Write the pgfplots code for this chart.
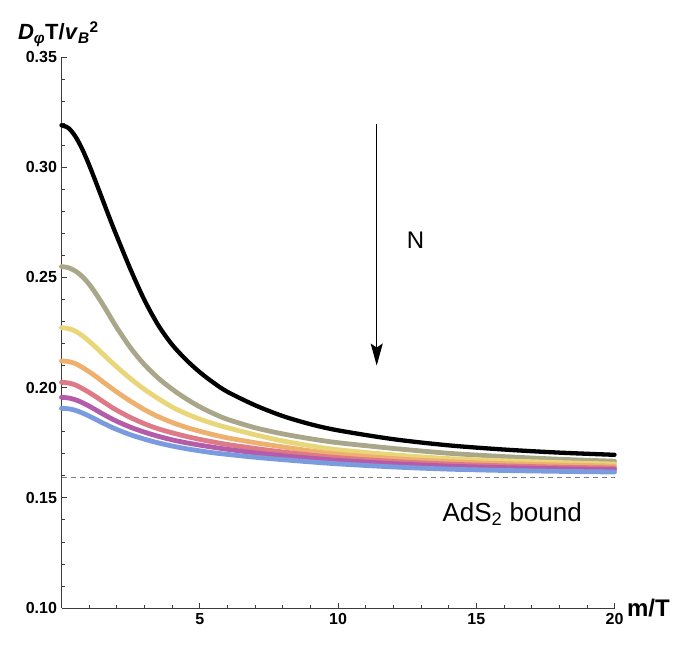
\documentclass[border=0pt]{standalone}
\usepackage{pgfplots}
\pgfplotsset{compat=1.18}
\usepackage{fontspec}
\setmainfont{Liberation Sans}
\usetikzlibrary{arrows.meta}
\definecolor{cgray}{RGB}{170,166,138}
\definecolor{cyel}{RGB}{232,214,120}
\definecolor{corg}{RGB}{238,176,110}
\definecolor{cpink}{RGB}{222,122,135}
\definecolor{cpur}{RGB}{180,92,170}
\definecolor{cblue}{RGB}{122,156,222}
\definecolor{axgray}{RGB}{60,60,60}
\begin{document}
\begin{tikzpicture}
\path[use as bounding box] (-61.5bp,-37bp) rectangle (618.5bp,608bp);
\begin{axis}[
  at={(0,0)}, anchor=south west,
  scale only axis, width=553bp, height=551bp,
  xmin=0, xmax=20, ymin=0.10, ymax=0.35,
  axis x line*=bottom, axis y line*=left,
  axis line style={axgray, line width=0.9bp},
  xtick={5,10,15,20}, minor xtick={1,2,3,4,6,7,8,9,11,12,13,14,16,17,18,19},
  ytick={0.10,0.15,0.20,0.25,0.30,0.35},
  yticklabels={0.10,0.15,0.20,0.25,0.30,0.35},
  minor ytick={0.11,0.12,0.13,0.14,0.16,0.17,0.18,0.19,0.21,0.22,0.23,0.24,0.26,0.27,0.28,0.29,0.31,0.32,0.33,0.34},
  tick align=inside,
  major tick length=5bp, minor tick length=3bp,
  tick style={axgray, line width=0.7bp},
  /pgf/number format/assume math mode=true,
  tick label style={font=\fontsize{16bp}{19bp}\selectfont\bfseries},
  xticklabel style={yshift=-2bp},
  yticklabel style={xshift=-1bp},
  clip=false,
  every axis plot/.append style={smooth, line cap=round},
]
\addplot[black, line width=4.3bp] coordinates {
(0,0.3190) (0.25,0.3178) (0.5,0.3140) (0.75,0.3082) (1,0.3010) (1.25,0.2930) (1.5,0.2848) (1.75,0.2766) (2,0.2687)
(2.5,0.2535) (3,0.2397) (3.5,0.2283) (4,0.2195) (4.5,0.2127) (5,0.2070) (5.5,0.2022) (6,0.1981)
(7,0.1920) (8,0.1871) (9,0.1834) (10,0.1806) (12,0.1766) (14,0.1738) (16,0.1719) (18,0.1705) (20,0.1695)};
\addplot[cgray, line width=4.8bp] coordinates {
(0,0.2549) (0.25,0.2544) (0.5,0.2529) (0.75,0.2504) (1,0.2469) (1.25,0.2425) (1.5,0.2376) (1.75,0.2324) (2,0.2272)
(2.5,0.2180) (3,0.2104) (3.5,0.2043) (4,0.1993) (4.5,0.1950) (5,0.1913) (5.5,0.1882) (6,0.1856)
(7,0.1818) (8,0.1790) (9,0.1768) (10,0.1750) (12,0.1724) (14,0.1702) (16,0.1687) (18,0.1675) (20,0.1666)};
\addplot[cyel, line width=4.8bp] coordinates {
(0,0.2272) (0.25,0.2268) (0.5,0.2256) (0.75,0.2236) (1,0.2210) (1.25,0.2182) (1.5,0.2152) (1.75,0.2122) (2,0.2094)
(2.5,0.2040) (3,0.1992) (3.5,0.1950) (4,0.1912) (4.5,0.1882) (5,0.1857) (5.5,0.1836) (6,0.1818)
(7,0.1786) (8,0.1758) (9,0.1736) (10,0.1718) (12,0.1695) (14,0.1678) (16,0.1668) (18,0.1660) (20,0.1653)};
\addplot[corg, line width=4.8bp] coordinates {
(0,0.2121) (0.25,0.2118) (0.5,0.2109) (0.75,0.2092) (1,0.2072) (1.25,0.2050) (1.5,0.2026) (1.75,0.2003) (2,0.1980)
(2.5,0.1938) (3,0.1900) (3.5,0.1868) (4,0.1842) (4.5,0.1820) (5,0.1802) (5.5,0.1786) (6,0.1772)
(7,0.1750) (8,0.1731) (9,0.1713) (10,0.1698) (12,0.1678) (14,0.1664) (16,0.1655) (18,0.1649) (20,0.1644)};
\addplot[cpink, line width=4.8bp] coordinates {
(0,0.2024) (0.25,0.2021) (0.5,0.2012) (0.75,0.1996) (1,0.1978) (1.25,0.1958) (1.5,0.1937) (1.75,0.1916) (2,0.1897)
(2.5,0.1864) (3,0.1836) (3.5,0.1813) (4,0.1795) (4.5,0.1779) (5,0.1765) (5.5,0.1753) (6,0.1742)
(7,0.1724) (8,0.1708) (9,0.1694) (10,0.1682) (12,0.1665) (14,0.1653) (16,0.1645) (18,0.1639) (20,0.1635)};
\addplot[cpur, line width=4.8bp] coordinates {
(0,0.1956) (0.25,0.1953) (0.5,0.1945) (0.75,0.1932) (1,0.1916) (1.25,0.1898) (1.5,0.1880) (1.75,0.1863) (2,0.1847)
(2.5,0.1820) (3,0.1798) (3.5,0.1779) (4,0.1763) (4.5,0.1750) (5,0.1739) (5.5,0.1729) (6,0.1720)
(7,0.1704) (8,0.1691) (9,0.1680) (10,0.1670) (12,0.1655) (14,0.1644) (16,0.1637) (18,0.1632) (20,0.1628)};
\addplot[cblue, line width=4.8bp] coordinates {
(0,0.1906) (0.25,0.1904) (0.5,0.1897) (0.75,0.1885) (1,0.1871) (1.25,0.1855) (1.5,0.1839) (1.75,0.1824) (2,0.1810)
(2.5,0.1786) (3,0.1766) (3.5,0.1749) (4,0.1735) (4.5,0.1723) (5,0.1713) (5.5,0.1704) (6,0.1697)
(7,0.1684) (8,0.1673) (9,0.1663) (10,0.1654) (12,0.1640) (14,0.1630) (16,0.1624) (18,0.1620) (20,0.1617)};
\addplot[gray, line width=1bp, sharp plot, line cap=butt, dash pattern=on 5bp off 4bp] coordinates {(0,0.1590) (20,0.1590)};
\draw[black, line width=1.1bp, -{Stealth[length=22bp, width=12bp, inset=4bp]}] (axis cs:11.4,0.3196) -- (axis cs:11.4,0.2100);
\node[font=\fontsize{24bp}{27bp}\selectfont] at (axis cs:12.8,0.267) {N};
\node[font=\fontsize{26bp}{29bp}\selectfont, anchor=base] at (axis cs:16.3,0.1392) {AdS\textsubscript{2} bound};
\node[font=\fontsize{24bp}{27bp}\selectfont\bfseries, anchor=west] at (axis cs:20,0.10) {\hspace{9bp}m/T};
\node[font=\fontsize{22bp}{25bp}\selectfont\bfseries, anchor=base west] at ([xshift=-47bp,yshift=17bp]rel axis cs:0,1) {\textit{D}\textsubscript{\textit{φ}}T/\textit{v}\textsubscript{\textit{B}}\textsuperscript{2}};
\end{axis}
\end{tikzpicture}
\end{document}
